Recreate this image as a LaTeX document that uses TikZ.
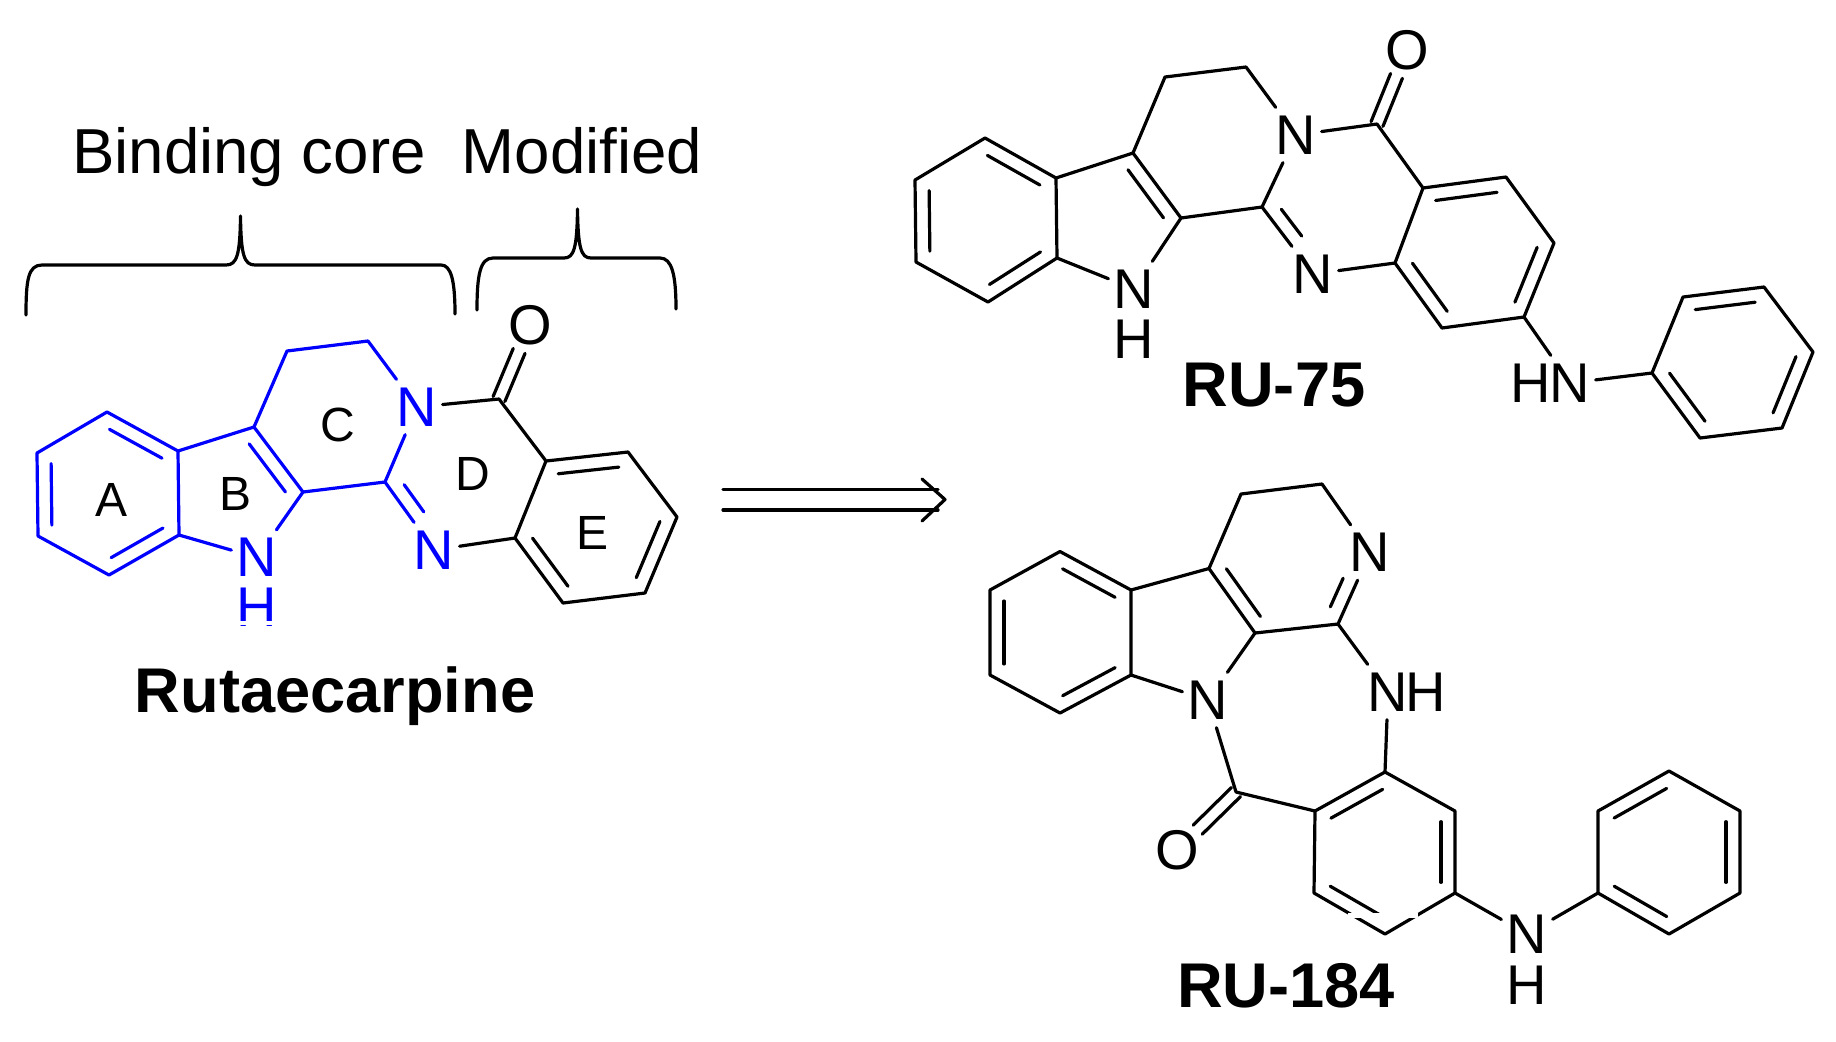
\documentclass[tikz,border=0pt]{standalone}
\usepackage{fontspec}
\setmainfont{Liberation Sans}
\usetikzlibrary{calc}

% inner line of a double bond, on the left of the way from #1 to #2
\newcommand{\innerbond}[2]{\draw[bond] ($(#1)!.13!(#2)!7pt!90:(#2)$) -- ($(#2)!.13!(#1)!-7pt!90:(#1)$);}
% same, for a double bond that runs to an atom label at #2
\newcommand{\labelbond}[2]{\draw[bond] ($(#1)!.16!(#2)!7pt!90:(#2)$) -- ($(#1)!.56!(#2)!7pt!90:(#2)$);}
% carbonyl, two lines that stop short of the oxygen
\newcommand{\twinbond}[2]{
    \draw[bond] ($(#1)!3.2pt!90:(#2)$) -- ($(#1)!.65!(#2)!3.2pt!90:(#2)$);
    \draw[bond] ($(#1)!3.2pt!-90:(#2)$) -- ($(#1)!.65!(#2)!3.2pt!-90:(#2)$);}

\tikzset{
    bond/.style={line width=1.6pt,line cap=round,line join=round},
    atom/.style={font=\fontsize{28}{30}\selectfont,inner xsep=2.5pt,inner ysep=4pt},
    ringtext/.style={font=\fontsize{24}{26}\selectfont,inner sep=0pt},
    headtext/.style={font=\fontsize{31.8}{34}\selectfont,anchor=base,inner sep=0pt},
    molname/.style={font=\bfseries\fontsize{31.6}{34}\selectfont,anchor=base,inner sep=0pt}
}

\begin{document}
\begin{tikzpicture}[x=0.5pt,y=-0.5pt]
    \useasboundingbox (0,0) rectangle (1836,1041);

    % Rutaecarpine
    \coordinate (A1) at (107,412);
    \coordinate (A2) at (178,451);
    \coordinate (A3) at (179,535);
    \coordinate (A4) at (109,575);
    \coordinate (A5) at (38,536);
    \coordinate (A6) at (37,453);
    \coordinate (B3) at (254,427);
    \coordinate (B2) at (303,492);
    \coordinate (C1) at (385,482);
    \coordinate (C5) at (368,341);
    \coordinate (C4) at (287,351);
    \coordinate (CO) at (499,399);
    \coordinate (E1) at (546,461);
    \coordinate (E2) at (628,452);
    \coordinate (E3) at (677,517);
    \coordinate (E4) at (645,593);
    \coordinate (E5) at (563,603);
    \coordinate (E6) at (515,538);
    \node[atom,blue] (N1) at (257,557.5) {N};
    \node[atom,blue] (H1) at (257,607) {H};
    \node[atom,blue] (N5) at (417,407) {N};
    \node[atom,blue] (N4) at (434,550) {N};
    \node[atom] (O1) at (530,325) {O};

    \draw[bond,blue] (A1) -- (A2) -- (A3) -- (A4) -- (A5) -- (A6) -- cycle;
    \draw[bond,blue] (A2) -- (B3) -- (B2) -- (N1) -- (A3);
    \draw[bond,blue] (B3) -- (C4) -- (C5) -- (N5) -- (C1) -- (B2);
    \draw[bond,blue] (C1) -- (N4);
    \begin{scope}[blue]
        \innerbond{A2}{A1}
        \innerbond{A4}{A3}
        \innerbond{A6}{A5}
        \innerbond{B2}{B3}
        \labelbond{C1}{N4}
    \end{scope}
    \draw[bond] (N5) -- (CO) -- (E1) -- (E2) -- (E3) -- (E4) -- (E5) -- (E6) -- (E1);
    \draw[bond] (E6) -- (N4);
    \twinbond{CO}{O1}
    \innerbond{E2}{E1}
    \innerbond{E4}{E3}
    \innerbond{E6}{E5}
    \fill[white] (238,620.5) rectangle (276,625);

    \node[ringtext] (ringA) at (112,500) {A};
    \node[ringtext] (ringB) at (236,494) {B};
    \node[ringtext] (ringC) at (338,425) {C};
    \node[ringtext] (ringD) at (473,474) {D};
    \node[ringtext] (ringE) at (592,533) {E};
    \node[molname] (nameR) at (335,712.5) {Rutaecarpine};

    % Braces
    \node[headtext] (core) at (249,173.5) {Binding core};
    \node[headtext] (modified) at (582,173) {Modified};
    \draw[bond] (26,315) .. controls (26,280) and (28,265) .. (42,265) -- (226,265)
        .. controls (237,265) and (240,255) .. (240.5,216)
        .. controls (241,255) and (244,265) .. (255,265) -- (441,265)
        .. controls (451,265) and (455,280) .. (455,314);
    \draw[bond] (477,310) .. controls (477,275) and (480,258) .. (493,258) -- (564,258)
        .. controls (574,258) and (577,248) .. (577.5,209)
        .. controls (578,248) and (581,258) .. (591,258) -- (660,258)
        .. controls (672,258) and (676,275) .. (676,309);

    % Arrow
    \coordinate (arrowA) at (723,489.5);
    \coordinate (arrowB) at (723,510);
    \coordinate (arrowC) at (938,489.5);
    \coordinate (arrowD) at (938,510);
    \coordinate (arrowTip) at (945,499.5);
    \coordinate (arrowU) at (922,479);
    \coordinate (arrowL) at (922,521);
    \draw[bond] (arrowA) -- (arrowC);
    \draw[bond] (arrowB) -- (arrowD);
    \draw[bond] (arrowU) -- (arrowTip) -- (arrowL);

    % RU-75
    \coordinate (sA1) at (985,138);
    \coordinate (sA2) at (1056,178);
    \coordinate (sA3) at (1057,258);
    \coordinate (sA4) at (988,302);
    \coordinate (sA5) at (916,262);
    \coordinate (sA6) at (915,180);
    \coordinate (sB3) at (1133,153);
    \coordinate (sB2) at (1181,218);
    \coordinate (sC1) at (1262,207);
    \coordinate (sC5) at (1246,67);
    \coordinate (sC4) at (1165,77);
    \coordinate (sCO) at (1377,124);
    \coordinate (sE1) at (1423,188);
    \coordinate (sE2) at (1506,177);
    \coordinate (sE3) at (1554,243);
    \coordinate (sE4) at (1524,317);
    \coordinate (sE5) at (1442,328);
    \coordinate (sE6) at (1395,263);
    \coordinate (sP1) at (1652,373);
    \coordinate (sP2) at (1683,297);
    \coordinate (sP3) at (1764,287);
    \coordinate (sP4) at (1813,352);
    \coordinate (sP5) at (1782,428);
    \coordinate (sP6) at (1700,438);
    \node[atom] (sN1) at (1134,289) {N};
    \node[atom] (sH1) at (1134,339) {H};
    \node[atom] (sN5) at (1296,135) {N};
    \node[atom] (sN4) at (1313,274) {N};
    \node[atom] (sN7) at (1570,383) {N};
    \node[atom] (sH7) at (1531,383) {H};
    \node[atom] (sO1) at (1407,50) {O};

    \draw[bond] (sA1) -- (sA2) -- (sA3) -- (sA4) -- (sA5) -- (sA6) -- cycle;
    \draw[bond] (sA2) -- (sB3) -- (sB2) -- (sN1) -- (sA3);
    \draw[bond] (sB3) -- (sC4) -- (sC5) -- (sN5) -- (sC1) -- (sB2);
    \draw[bond] (sC1) -- (sN4) -- (sE6);
    \draw[bond] (sN5) -- (sCO) -- (sE1) -- (sE2) -- (sE3) -- (sE4) -- (sE5) -- (sE6) -- (sE1);
    \draw[bond] (sE4) -- (sN7) -- (sP1);
    \draw[bond] (sP1) -- (sP2) -- (sP3) -- (sP4) -- (sP5) -- (sP6) -- cycle;
    \twinbond{sCO}{sO1}
    \innerbond{sA2}{sA1}
    \innerbond{sA4}{sA3}
    \innerbond{sA6}{sA5}
    \innerbond{sB2}{sB3}
    \labelbond{sC1}{sN4}
    \innerbond{sE2}{sE1}
    \innerbond{sE4}{sE3}
    \innerbond{sE6}{sE5}
    \innerbond{sP3}{sP2}
    \innerbond{sP5}{sP4}
    \innerbond{sP1}{sP6}
    \node[molname] (nameS) at (1274,406.5) {RU-75};

    % RU-184
    \coordinate (tA1) at (1060,551.5);
    \coordinate (tA2) at (1131,590);
    \coordinate (tA3) at (1131,675);
    \coordinate (tA4) at (1060,713);
    \coordinate (tA5) at (990,675);
    \coordinate (tA6) at (990,590);
    \coordinate (tB3) at (1209,568.5);
    \coordinate (tB2) at (1255,633);
    \coordinate (tC1) at (1338,624);
    \coordinate (tC5) at (1322,484);
    \coordinate (tC4) at (1241,494);
    \coordinate (tCO) at (1236,792);
    \coordinate (tG1) at (1315,811);
    \coordinate (tG2) at (1385,772);
    \coordinate (tG3) at (1455,811);
    \coordinate (tG4) at (1455,893);
    \coordinate (tG5) at (1385,934);
    \coordinate (tG6) at (1314,893);
    \coordinate (tP1) at (1598,893);
    \coordinate (tP2) at (1598,811);
    \coordinate (tP3) at (1669,771);
    \coordinate (tP4) at (1740,811);
    \coordinate (tP5) at (1740,893);
    \coordinate (tP6) at (1669,934);
    \node[atom] (tN1) at (1208,700) {N};
    \node[atom] (tN5) at (1370,552.5) {N};
    \node[atom] (tN4) at (1388,692) {N};
    \node[atom] (tH4) at (1426,692) {H};
    \node[atom] (tN7) at (1527,934) {N};
    \node[atom] (tH7) at (1527,985) {H};
    \node[atom] (tO1) at (1177,850) {O};

    \draw[bond] (tA1) -- (tA2) -- (tA3) -- (tA4) -- (tA5) -- (tA6) -- cycle;
    \draw[bond] (tA2) -- (tB3) -- (tB2) -- (tN1) -- (tA3);
    \draw[bond] (tB3) -- (tC4) -- (tC5) -- (tN5) -- (tC1) -- (tB2);
    \draw[bond] (tC1) -- (tN4) -- (tG2);
    \draw[bond] (tN1) -- (tCO) -- (tG1);
    \draw[bond] (tG1) -- (tG2) -- (tG3) -- (tG4) -- (tG5) -- (tG6) -- cycle;
    \draw[bond] (tG4) -- (tN7) -- (tP1);
    \draw[bond] (tP1) -- (tP2) -- (tP3) -- (tP4) -- (tP5) -- (tP6) -- cycle;
    \twinbond{tCO}{tO1}
    \innerbond{tA2}{tA1}
    \innerbond{tA4}{tA3}
    \innerbond{tA6}{tA5}
    \innerbond{tB3}{tB2}
    \labelbond{tC1}{tN5}
    \innerbond{tG2}{tG1}
    \innerbond{tG4}{tG3}
    \innerbond{tG6}{tG5}
    \innerbond{tP3}{tP2}
    \innerbond{tP5}{tP4}
    \innerbond{tP1}{tP6}
    \fill[white] (1348,912.5) rectangle (1418,918);
    \node[molname] (nameT) at (1286,1007) {RU-184};
\end{tikzpicture}
\end{document}
